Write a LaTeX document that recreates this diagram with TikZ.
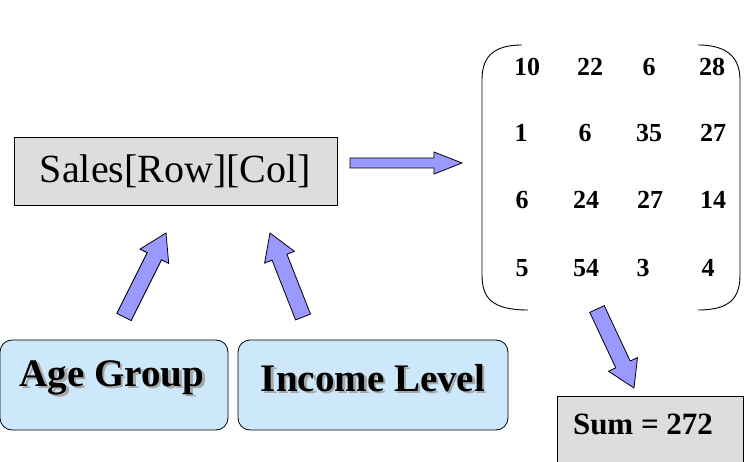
\documentclass[tikz,border=0pt]{standalone}
\usepackage{fontspec}
\setmainfont{LiberationSerif}[Extension=.ttf,UprightFont=*-Regular,BoldFont=*-Bold,ItalicFont=*-Italic,BoldItalicFont=*-BoldItalic]
\usetikzlibrary{calc}
\definecolor{arrowfill}{HTML}{9999FF}
\definecolor{boxgray}{HTML}{DDDDDD}
\definecolor{boxblue}{HTML}{CCE8FA}
\newcommand{\blockarr}[5]{% from, to, shaft half, head half, head length
  \coordinate (ba-h) at ($(#2)!#5!(#1)$);
  \filldraw[fill=arrowfill,draw=black,line width=0.8pt,line join=miter]
    ($(#1)!#3!90:(#2)$) -- ($(ba-h)!#3!-90:(#1)$) -- ($(ba-h)!#4!-90:(#1)$) -- (#2)
    -- ($(ba-h)!#4!90:(#1)$) -- ($(ba-h)!#3!90:(#1)$) -- ($(#1)!#3!-90:(#2)$) -- cycle;}
\begin{document}
\begin{tikzpicture}[x=1pt,y=-1pt,
  num/.style={font=\fontsize{26}{28}\selectfont\bfseries},
  big/.style={font=\fontsize{39}{41}\selectfont\bfseries},
  blue box/.style={draw=black,fill=boxblue,rounded corners=12pt,line width=0.8pt}]
\useasboundingbox (0,0) rectangle (750,462);
% Sales box
\node[draw=black,fill=boxgray,line width=0.8pt,minimum width=323pt,minimum height=68pt,inner sep=0pt,
  font=\fontsize{40}{42}\selectfont] (sales) at (175.5,171) {Sales[Row][Col]};
% matrix brackets
\draw[line width=0.9pt] (522,45) .. controls (490,45) and (482,60) .. (482,80) -- (482,275)
  .. controls (482,298) and (492,310) .. (528,310);
\draw[line width=0.9pt] (698,45) .. controls (730,45) and (740,60) .. (740,80) -- (740,275)
  .. controls (740,298) and (730,310) .. (698,310);
\node[num] (m11) at (527,67) {10}; \node[num] (m12) at (590,67) {22}; \node[num] (m13) at (649,67) {6}; \node[num] (m14) at (712,67) {28};
\node[num] (m21) at (521,133) {1}; \node[num] (m22) at (585,133) {6}; \node[num] (m23) at (649,133) {35}; \node[num] (m24) at (713,133) {27};
\node[num] (m31) at (522,200) {6}; \node[num] (m32) at (586,200) {24}; \node[num] (m33) at (650,200) {27}; \node[num] (m34) at (713,200) {14};
\node[num] (m41) at (522,268) {5}; \node[num] (m42) at (586,268) {54}; \node[num] (m43) at (643,268) {3}; \node[num] (m44) at (708,268) {4};
% Sum box
\draw[fill=boxgray,line width=0.8pt] (557,464) -- (557,396) -- (743,396) -- (743,464);
\node[font=\fontsize{31}{33}\selectfont\bfseries] (sum) at (643,424) {Sum = 272};
% blue boxes
\draw[blue box] (0,340) rectangle (228,430);
\draw[blue box] (238,340) rectangle (508,430);
\node[big,text=gray!70] at (114.5,380) {Age Group};
\node[big] (age) at (112,378) {Age Group};
\node[big,text=gray!70] at (375.5,380) {Income Level};
\node[big] (inc) at (373,378) {Income Level};
% arrows
\coordinate (r1) at (350,163); \coordinate (r2) at (462,163);
\blockarr{r1}{r2}{5pt}{11pt}{28pt}
\coordinate (a1) at (124,317); \coordinate (a2) at (166,233);
\blockarr{a1}{a2}{8pt}{16pt}{26pt}
\coordinate (b1) at (303,317); \coordinate (b2) at (270,233);
\blockarr{b1}{b2}{8pt}{16pt}{26pt}
\coordinate (c1) at (597,309); \coordinate (c2) at (634,388);
\blockarr{c1}{c2}{8pt}{16pt}{26pt}
\end{tikzpicture}
\end{document}
